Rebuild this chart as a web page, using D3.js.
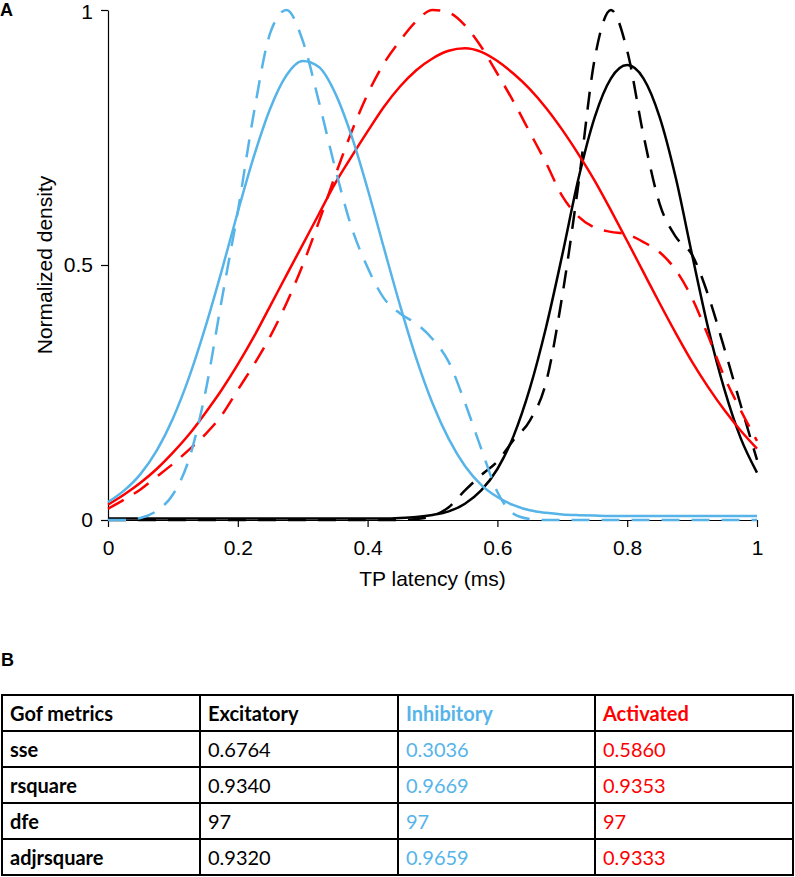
<!DOCTYPE html>
<html>
<head>
<meta charset="utf-8">
<script src="https://cdn.jsdelivr.net/npm/d3@7"></script>
<style>
  html, body { margin: 0; padding: 0; background: #fff; }
  svg { display: block; }
</style>
</head>
<body>
<script>
// ---------- DATA ----------
const latency = [0, 0.025, 0.05, 0.075, 0.1, 0.125, 0.15, 0.175, 0.2, 0.225, 0.25, 0.275, 0.3, 0.325, 0.35, 0.375, 0.4, 0.425, 0.45, 0.475, 0.5, 0.525, 0.55, 0.575, 0.6, 0.625, 0.65, 0.675, 0.7, 0.725, 0.75, 0.775, 0.8, 0.825, 0.85, 0.875, 0.9, 0.925, 0.95, 0.975, 1];

const excitatoryData = [0, 0, 0, 0, 0, 0, 0, 0, 0, 0, 0, 0, 0, 0, 0, 0, 0, 0, 0, 0.002, 0.008, 0.025, 0.058, 0.088, 0.115, 0.157, 0.195, 0.27, 0.44, 0.66, 0.905, 1.0, 0.92, 0.755, 0.62, 0.555, 0.52, 0.44, 0.335, 0.225, 0.118];
const excitatoryFit  = [0.003, 0.003, 0.003, 0.003, 0.003, 0.003, 0.003, 0.003, 0.003, 0.003, 0.003, 0.003, 0.003, 0.003, 0.003, 0.003, 0.003, 0.003, 0.004, 0.006, 0.01, 0.017, 0.032, 0.058, 0.10, 0.165, 0.258, 0.378, 0.52, 0.67, 0.79, 0.866, 0.892, 0.866, 0.79, 0.67, 0.52, 0.375, 0.255, 0.16, 0.093];

const inhibitoryData = [0, 0, 0.004, 0.018, 0.05, 0.12, 0.25, 0.43, 0.605, 0.80, 0.955, 1.0, 0.94, 0.82, 0.69, 0.575, 0.495, 0.435, 0.405, 0.385, 0.355, 0.31, 0.23, 0.14, 0.055, 0.012, 0.002, 0, 0, 0, 0, 0, 0, 0, 0, 0, 0, 0, 0, 0, 0];
const inhibitoryFit  = [0.035, 0.058, 0.09, 0.136, 0.199, 0.28, 0.378, 0.488, 0.604, 0.714, 0.807, 0.872, 0.90, 0.888, 0.837, 0.754, 0.649, 0.534, 0.421, 0.317, 0.229, 0.159, 0.106, 0.069, 0.045, 0.029, 0.019, 0.014, 0.011, 0.0095, 0.0086, 0.008, 0.008, 0.008, 0.008, 0.008, 0.008, 0.008, 0.008, 0.008, 0.008];

const activatedData = [0.022, 0.04, 0.06, 0.085, 0.11, 0.138, 0.168, 0.205, 0.255, 0.305, 0.36, 0.425, 0.50, 0.585, 0.675, 0.76, 0.835, 0.895, 0.94, 0.978, 1.0, 0.995, 0.97, 0.928, 0.875, 0.82, 0.76, 0.70, 0.635, 0.595, 0.573, 0.565, 0.56, 0.545, 0.525, 0.49, 0.435, 0.36, 0.28, 0.215, 0.155];
const activatedFit  = [0.03, 0.05, 0.073, 0.10, 0.132, 0.168, 0.21, 0.255, 0.305, 0.36, 0.42, 0.48, 0.54, 0.60, 0.66, 0.712, 0.762, 0.81, 0.85, 0.882, 0.905, 0.92, 0.925, 0.918, 0.90, 0.875, 0.845, 0.808, 0.765, 0.717, 0.665, 0.607, 0.547, 0.486, 0.425, 0.366, 0.31, 0.26, 0.215, 0.175, 0.14];

const xTicks = [0, 0.2, 0.4, 0.6, 0.8, 1];
const yTicks = [0, 0.5, 1];

// Table
const tableHeader = ["Gof metrics", "Excitatory", "Inhibitory", "Activated"];
const metricNames = ["sse", "rsquare", "dfe", "adjrsquare"];
const excitatoryGof = [0.6764, 0.9340, 97, 0.9320];
const inhibitoryGof = [0.3036, 0.9669, 97, 0.9659];
const activatedGof  = [0.5860, 0.9353, 97, 0.9333];

// ---------- STYLE ----------
const BLUE = "#56B4E9", RED = "#FF0000", BLACK = "#000000";
const FONT = "'Liberation Sans', Arial, Helvetica, sans-serif";
const TFONT = "Lato, 'Open Sans', sans-serif";

const W = 795, H = 877;
const svg = d3.select("body").append("svg").attr("width", W).attr("height", H)
  .style("font-family", FONT);

const x = d3.scaleLinear().domain([0, 1]).range([108, 757]);
const y = d3.scaleLinear().domain([0, 1]).range([520, 10]);

// Panel labels
svg.append("text").attr("x", 0).attr("y", 16).text("A")
  .style("font-weight", "bold").style("font-size", "18px");
svg.append("text").attr("x", 1).attr("y", 666).text("B")
  .style("font-weight", "bold").style("font-size", "18px");

// Curves
const line = d3.line().x(d => x(d[0])).y(d => y(d[1])).curve(d3.curveMonotoneX);
const series = [
  { v: excitatoryData, c: BLACK, dash: "18,12" },
  { v: excitatoryFit,  c: BLACK, dash: null },
  { v: activatedData,  c: RED,   dash: "18,12" },
  { v: activatedFit,   c: RED,   dash: null },
  { v: inhibitoryData, c: BLUE,  dash: "18,12" },
  { v: inhibitoryFit,  c: BLUE,  dash: null }
];

// Axes
const fmt = d3.format("~g");
const xAxis = svg.append("g").attr("transform", `translate(0,${y(0)})`)
  .call(d3.axisBottom(x).tickValues(xTicks).tickFormat(fmt).tickSize(7).tickSizeOuter(0).tickPadding(13));
const yAxis = svg.append("g").attr("transform", `translate(${x(0)},0)`)
  .call(d3.axisLeft(y).tickValues(yTicks).tickFormat(fmt).tickSize(7).tickSizeOuter(0).tickPadding(8));
[xAxis, yAxis].forEach(g => {
  g.selectAll("path, line").attr("stroke", BLACK).attr("stroke-width", 1.2);
  g.selectAll("text").style("font-family", FONT).style("font-size", "21px").attr("fill", BLACK);
});
// keep the top "1" label fully inside the picture
yAxis.selectAll(".tick").filter(d => d === 1).select("text").attr("dy", "0.42em");

svg.append("g").selectAll("path").data(series).join("path")
  .attr("d", s => line(latency.map((t, i) => [t, s.v[i]])))
  .attr("fill", "none")
  .attr("stroke", s => s.c)
  .attr("stroke-width", 2.5)
  .attr("stroke-dasharray", s => s.dash);

// Axis titles
svg.append("text").attr("x", (x(0) + x(1)) / 2).attr("y", 586)
  .attr("text-anchor", "middle").style("font-size", "21px").text("TP latency (ms)");
svg.append("text").attr("transform", `translate(52,${y(0.5)}) rotate(-90)`)
  .attr("text-anchor", "middle").style("font-size", "21px").text("Normalized density");

// ---------- TABLE ----------
const colX = [2, 200, 398, 595, 793];
const rowY = [695, 731, 767, 803, 839, 875];
const colColors = [BLACK, BLACK, BLUE, RED];
const fmtVal = v => Number.isInteger(v) ? String(v) : v.toFixed(4);
const columns = [metricNames, excitatoryGof.map(fmtVal), inhibitoryGof.map(fmtVal), activatedGof.map(fmtVal)];

const tg = svg.append("g").style("font-family", TFONT);
tg.selectAll("line.h").data(rowY).join("line").attr("class", "h")
  .attr("x1", colX[0]).attr("x2", colX[colX.length - 1])
  .attr("y1", d => d).attr("y2", d => d)
  .attr("stroke", BLACK).attr("stroke-width", 2);
tg.selectAll("line.v").data(colX).join("line").attr("class", "v")
  .attr("x1", d => d).attr("x2", d => d)
  .attr("y1", rowY[0] - 1).attr("y2", rowY[rowY.length - 1] + 1)
  .attr("stroke", BLACK).attr("stroke-width", 2);

const cells = [];
tableHeader.forEach((h, c) => cells.push({ r: 0, c, t: h, bold: true }));
columns.forEach((col, c) => col.forEach((t, r) => cells.push({ r: r + 1, c, t, bold: c === 0 })));
tg.selectAll("text").data(cells).join("text")
  .attr("x", d => colX[d.c] + 8)
  .attr("y", d => rowY[d.r] + 26)
  .attr("fill", d => colColors[d.c])
  .style("font-size", "20px")
  .style("font-weight", d => d.bold ? "bold" : "normal")
  .text(d => d.t);
</script>
</body>
</html>
